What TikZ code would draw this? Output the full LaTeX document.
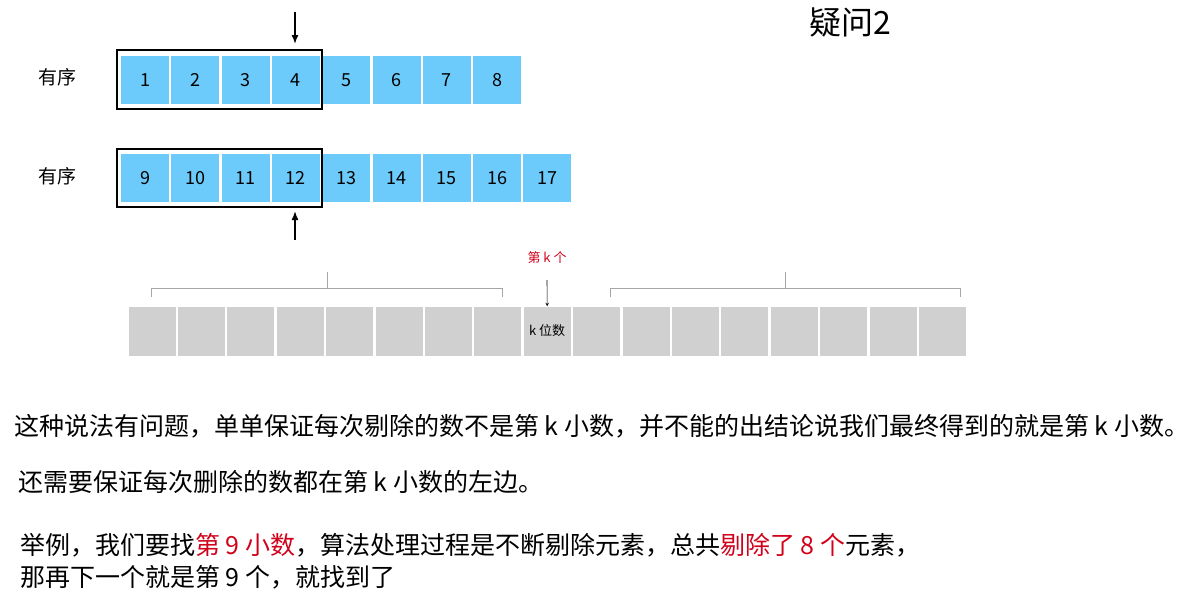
\documentclass[tikz,border=0pt]{standalone}
\usepackage{fontspec}
\usetikzlibrary{arrows.meta}
\setmainfont{Noto Sans CJK SC}
\definecolor{cellblue}{HTML}{6CCBFA}
\definecolor{cellgrey}{HTML}{D0D0D0}
\definecolor{myred}{HTML}{D0021B}
\tikzset{
 bcell/.style={fill=cellblue,minimum width=48pt,minimum height=48pt,inner sep=0,font=\fontsize{18}{18}\selectfont},
 gcell/.style={fill=cellgrey,minimum width=47pt,minimum height=49pt,inner sep=0,font=\fontsize{13}{13}\selectfont},
 frame/.style={draw=black,line width=1.2pt},
 brace/.style={draw=gray!70,line width=0.6pt},
 txt/.style={anchor=west,inner sep=0,font=\fontsize{25}{25}\selectfont},
}
\begin{document}
\begin{tikzpicture}[x=1pt,y=-1pt]
\useasboundingbox (0,0) rectangle (1187,606);
\node[font=\fontsize{32}{32}\selectfont] (title) at (850,22) {疑问2};
\node[font=\fontsize{19}{19}\selectfont] (l1) at (57,77) {有序};
\node[font=\fontsize{19}{19}\selectfont] (l2) at (57,176) {有序};
\foreach \i [count=\n] in {1,...,8} \node[bcell] (a\n) at ({145+50.3*(\n-1)},80) {\i};
\foreach \i [count=\n] in {9,...,17} \node[bcell] (b\n) at ({145+50.3*(\n-1)},178) {\i};
\draw[frame] (117,50) rectangle (322,109);
\draw[frame] (117,149) rectangle (322,207);
\coordinate (t1) at (295,12); \coordinate (t2) at (295,240);
\draw[-{Latex[length=9pt,width=7pt]},line width=1.5pt] (t1) -- (295,44);
\draw[-{Latex[length=9pt,width=7pt]},line width=1.5pt] (t2) -- (295,211);
\foreach \n in {1,...,17} \node[gcell] (g\n) at ({152+49.4*(\n-1)},331) {};
\node[font=\fontsize{13}{13}\selectfont] at (g9) {k 位数};
\node[text=myred,font=\fontsize{13}{13}\selectfont] (kth) at (547,258) {第 k 个};
\draw[-stealth,line width=0.6pt] (547,280) -- (g9.north);
\draw[brace] (151,297) -- (151,288) -- (502,288) -- (502,297);
\draw[brace] (327,288) -- (327,272);
\draw[brace] (610,297) -- (610,288) -- (960,288) -- (960,297);
\draw[brace] (785,288) -- (785,272);
\node[txt] (s1) at (14,426) {这种说法有问题，单单保证每次剔除的数不是第 k 小数，并不能的出结论说我们最终得到的就是第 k 小数。};
\node[txt] (s2) at (18,482) {还需要保证每次删除的数都在第 k 小数的左边。};
\node[txt] (s3) at (20,545) {举例，我们要找\textcolor{myred}{第 9 小数}，算法处理过程是不断剔除元素，总共\textcolor{myred}{剔除了 8 个}元素，};
\node[txt] (s4) at (20,577) {那再下一个就是第 9 个，就找到了};
\end{tikzpicture}
\end{document}
